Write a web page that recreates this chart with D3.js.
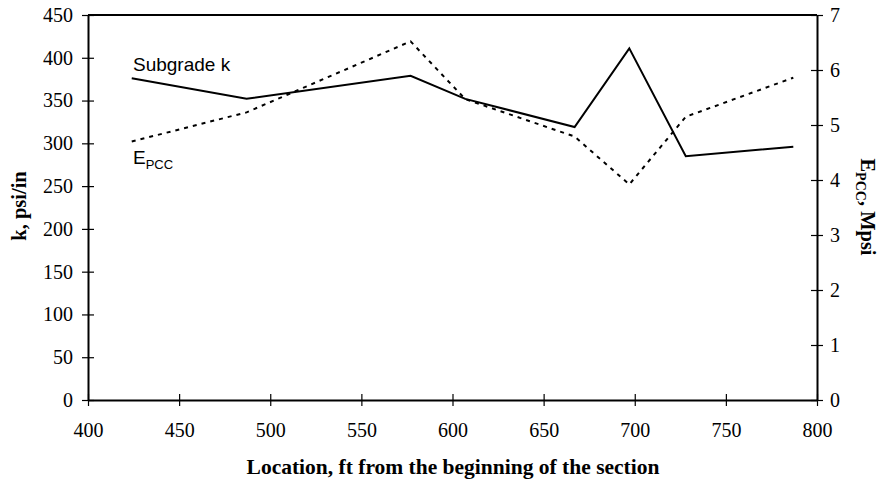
<!DOCTYPE html>
<html><head><meta charset="utf-8">
<script src="https://cdn.jsdelivr.net/npm/d3@7"></script>
<style>body{margin:0;background:#fff}svg{display:block}</style>
</head><body>
<svg id="c" width="885" height="484"></svg>
<script>
const locations = [424, 487, 577, 607, 667, 697, 728, 787];
const subgradeK = [376, 352, 379, 352, 319, 411, 285, 296];
const ePCC = [4.70, 5.23, 6.52, 5.47, 4.79, 3.92, 5.15, 5.86];
const xTicks = [400, 450, 500, 550, 600, 650, 700, 750, 800];
const yLeftTicks = [0, 50, 100, 150, 200, 250, 300, 350, 400, 450];
const yRightTicks = [0, 1, 2, 3, 4, 5, 6, 7];

const svg = d3.select("#c");
const L = 88, R = 817, T = 15, B = 400;
const x = d3.scaleLinear().domain([400, 800]).range([L, R]);
const yL = d3.scaleLinear().domain([0, 450]).range([B, T]);
const yR = d3.scaleLinear().domain([0, 7]).range([B, T]);
const serif = "'Liberation Serif','Times New Roman',serif";
const sans = "'Liberation Sans',Arial,sans-serif";
const fmt = d3.format("d");

function styleAxis(g){
  g.attr("font-family", serif).attr("font-size", 20);
  g.select(".domain").attr("stroke","#000").attr("stroke-width",2);
  g.selectAll(".tick line").attr("stroke","#000").attr("stroke-width",1.2);
  g.selectAll(".tick text").style("font-family",serif).style("font-size","20px").attr("fill","#000");
}
// top frame
svg.append("line").attr("x1",L).attr("x2",R).attr("y1",T).attr("y2",T).attr("stroke","#000").attr("stroke-width",2);

const gx = svg.append("g").attr("transform",`translate(0,${B})`)
  .call(d3.axisBottom(x).tickValues(xTicks).tickFormat(fmt).tickSize(6).tickSizeOuter(0).tickPadding(17));
gx.selectAll(".tick line").attr("y1",-6);
styleAxis(gx);

const gl = svg.append("g").attr("transform",`translate(${L},0)`)
  .call(d3.axisLeft(yL).tickValues(yLeftTicks).tickFormat(fmt).tickSize(6).tickSizeOuter(0).tickPadding(9));
gl.selectAll(".tick line").attr("x2",6).attr("x1",-6);
styleAxis(gl);

const gr = svg.append("g").attr("transform",`translate(${R},0)`)
  .call(d3.axisRight(yR).tickValues(yRightTicks).tickFormat(fmt).tickSize(6).tickSizeOuter(0).tickPadding(7));
gr.selectAll(".tick line").attr("x1",-6).attr("x2",6);
styleAxis(gr);

// lines
const lineK = d3.line().x((d,i)=>x(locations[i])).y(d=>yL(d));
const lineE = d3.line().x((d,i)=>x(locations[i])).y(d=>yR(d));
svg.append("path").datum(subgradeK).attr("d",lineK).attr("fill","none").attr("stroke","#000").attr("stroke-width",2);
svg.append("path").datum(ePCC).attr("d",lineE).attr("fill","none").attr("stroke","#000").attr("stroke-width",2).attr("stroke-dasharray","4,5");

// series labels
svg.append("text").attr("x",133).attr("y",71).style("font-family",sans).style("font-size","19px").text("Subgrade k");
const el = svg.append("text").attr("x",133).attr("y",164).style("font-family",sans).style("font-size","19px");
el.append("tspan").text("E");
el.append("tspan").style("font-size","13px").attr("dy",5).text("PCC");

// axis titles
svg.append("text").attr("x",453).attr("y",474).attr("text-anchor","middle")
  .style("font-family",serif).style("font-size","21.5px").style("font-weight","bold").text("Location, ft from the beginning of the section");
svg.append("text").attr("transform","translate(26,206) rotate(-90)").attr("text-anchor","middle")
  .style("font-family",serif).style("font-size","20.5px").style("font-weight","bold").text("k, psi/in");
const rt = svg.append("text").attr("transform","translate(861,207) rotate(90)").attr("text-anchor","middle")
  .style("font-family",serif).style("font-size","20.5px").style("font-weight","bold");
rt.append("tspan").text("E");
rt.append("tspan").style("font-size","14px").attr("dy",5).text("PCC");
rt.append("tspan").attr("dy",-5).text(", Mpsi");
</script>
</body></html>
